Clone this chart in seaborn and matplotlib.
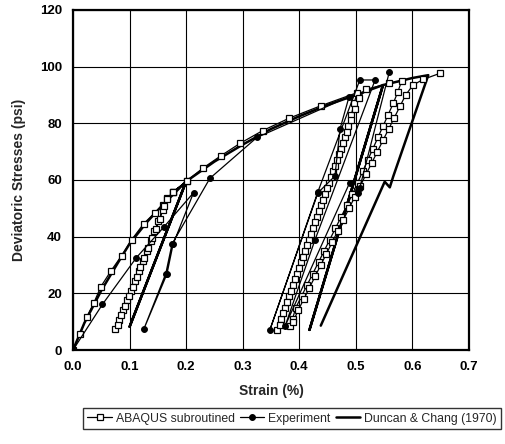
import matplotlib
matplotlib.use("Agg")
import matplotlib.pyplot as plt
import seaborn as sns
import pandas as pd

# ABAQUS subroutine: loading envelope with unload/reload cycles
abaqus_strain = [
    0.000, 0.012, 0.024, 0.037, 0.049, 0.067, 0.086, 0.104, 0.125, 0.145, 0.159, 0.167, 0.176, 0.202,
    0.176, 0.167, 0.159, 0.151, 0.144, 0.137, 0.130, 0.123, 0.116, 0.109, 0.102, 0.095, 0.088, 0.081, 0.075,
    0.079, 0.085, 0.092, 0.099, 0.106, 0.113, 0.119, 0.126, 0.133, 0.140, 0.147, 0.153, 0.161, 0.176, 0.202,
    0.229, 0.261, 0.295, 0.335, 0.382, 0.438, 0.502,
    0.497, 0.492, 0.486, 0.480, 0.474, 0.467, 0.460, 0.453, 0.446, 0.439, 0.432, 0.424, 0.417, 0.410,
    0.403, 0.396, 0.389, 0.382, 0.375, 0.368, 0.361,
    0.366, 0.372, 0.379, 0.386, 0.393, 0.400, 0.407, 0.414, 0.421, 0.428, 0.435, 0.442, 0.449, 0.456,
    0.463, 0.470, 0.477, 0.484, 0.491, 0.498, 0.506, 0.518, 0.559, 0.581,
    0.574, 0.566, 0.557, 0.548, 0.539, 0.530, 0.521, 0.512, 0.503, 0.494, 0.484, 0.474, 0.464, 0.454,
    0.444, 0.434, 0.424, 0.414, 0.404, 0.394, 0.388, 0.383,
    0.389, 0.398, 0.408, 0.418, 0.428, 0.438, 0.448, 0.458, 0.468, 0.478, 0.488, 0.498, 0.508, 0.518,
    0.528, 0.538, 0.548, 0.558, 0.568, 0.578, 0.588, 0.601, 0.619, 0.648,
]
abaqus_stress = [
    0.0, 5.6, 11.5, 16.7, 22.3, 27.9, 33.3, 39.0, 44.6, 48.5, 51.3, 53.5, 55.6, 59.8,
    55.6, 53.3, 49.5, 45.5, 42.0, 38.5, 35.0, 31.5, 28.0, 24.5, 21.0, 17.5, 14.0, 10.5, 7.3,
    9.0, 12.2, 15.6, 19.0, 22.4, 25.8, 29.2, 32.6, 36.0, 39.4, 42.8, 46.2, 50.9, 55.6, 59.8,
    64.1, 68.5, 72.9, 77.4, 81.8, 86.2, 90.8,
    87.0, 83.0, 79.0, 75.0, 71.0, 67.0, 63.0, 59.0, 55.0, 51.0, 47.0, 43.0, 39.0, 35.0,
    31.0, 27.0, 23.0, 19.0, 15.0, 11.0, 7.2,
    9.0, 13.0, 17.0, 21.0, 25.0, 29.0, 33.0, 37.0, 41.0, 45.0, 49.0, 53.0, 57.0, 61.0,
    65.0, 69.0, 73.0, 77.0, 81.0, 85.0, 89.0, 92.0, 94.1, 95.0,
    91.0, 87.0, 83.0, 79.0, 75.0, 71.0, 67.0, 63.0, 59.0, 55.0, 51.0, 47.0, 43.0, 39.0,
    35.0, 31.0, 27.0, 23.0, 19.0, 15.0, 11.0, 8.5,
    10.0, 14.0, 18.0, 22.0, 26.0, 30.0, 34.0, 38.0, 42.0, 46.0, 50.0, 54.0, 58.0, 62.0,
    66.0, 70.0, 74.0, 78.0, 82.0, 86.0, 90.0, 93.5, 95.5, 97.6,
]

# Laboratory test readings
experiment_strain = [
    0.000, 0.052, 0.112, 0.161, 0.213, 0.177, 0.166, 0.125, 0.164, 0.175, 0.242, 0.325,
    0.488, 0.472, 0.463, 0.433, 0.348, 0.433, 0.507, 0.534, 0.428, 0.375, 0.489, 0.503,
    0.507, 0.559,
]
experiment_stress = [
    0.0, 16.1, 32.6, 43.5, 55.5, 37.4, 26.8, 7.3, 27.0, 37.4, 60.6, 75.0,
    89.4, 78.0, 61.4, 55.5, 7.1, 55.9, 95.3, 95.3, 39.0, 8.5, 59.0, 55.5,
    57.3, 98.0,
]

# Hyperbolic model of Duncan & Chang (1970)
duncan_strain = [
    0.000, 0.020, 0.050, 0.080, 0.100, 0.130, 0.160, 0.200, 0.100, 0.200,
    0.250, 0.300, 0.350, 0.400, 0.450, 0.500, 0.548, 0.418, 0.548,
    0.600, 0.628, 0.566, 0.560, 0.551, 0.438,
]
duncan_stress = [
    0.0, 9.5, 21.0, 31.0, 37.5, 45.0, 51.5, 59.5, 8.2, 59.5,
    66.5, 72.5, 78.0, 82.5, 86.5, 90.0, 93.5, 7.1, 93.5,
    96.0, 97.0, 61.2, 57.4, 59.4, 8.6,
]

x_ticks = [0.0, 0.1, 0.2, 0.3, 0.4, 0.5, 0.6, 0.7]
y_ticks = [0, 20, 40, 60, 80, 100, 120]

sns.set_theme(style="white")
plt.rcParams["font.family"] = ["Liberation Sans", "DejaVu Sans"]

fig = plt.figure(figsize=(5.05, 4.44), dpi=100)
ax = fig.add_axes([0.1446, 0.2117, 0.7841, 0.7658])

df_duncan = pd.DataFrame({"strain": duncan_strain, "stress": duncan_stress})
df_abaqus = pd.DataFrame({"strain": abaqus_strain, "stress": abaqus_stress})
df_exp = pd.DataFrame({"strain": experiment_strain, "stress": experiment_stress})

sns.lineplot(data=df_abaqus, x="strain", y="stress", sort=False, estimator=None, ax=ax,
             color="black", linewidth=0.9, marker="s", markersize=4.8,
             markerfacecolor="white", markeredgecolor="black", markeredgewidth=0.9,
             label="ABAQUS subroutined", zorder=3)
sns.lineplot(data=df_exp, x="strain", y="stress", sort=False, estimator=None, ax=ax,
             color="black", linewidth=0.9, marker="o", markersize=4.2,
             markerfacecolor="black", markeredgecolor="black",
             label="Experiment", zorder=4)
sns.lineplot(data=df_duncan, x="strain", y="stress", sort=False, estimator=None, ax=ax,
             color="black", linewidth=1.8, label="Duncan & Chang (1970)", zorder=2)

ax.set_xlim(0, 0.7)
ax.set_ylim(0, 120)
ax.set_xticks(x_ticks)
ax.set_yticks(y_ticks)
ax.set_xticklabels([f"{v:.1f}" for v in x_ticks])
ax.set_yticklabels([str(v) for v in y_ticks])
ax.grid(True, color="black", linewidth=0.8)
ax.set_axisbelow(True)
for s in ax.spines.values():
    s.set_color("black")
    s.set_linewidth(1.6)
ax.tick_params(axis="both", length=0, pad=8, labelsize=9.5, colors="black")
for lab in ax.get_xticklabels() + ax.get_yticklabels():
    lab.set_fontweight("bold")

ax.set_xlabel("Strain (%)", fontsize=10, fontweight="bold", labelpad=8)
ax.set_ylabel("Deviatoric Stresses (psi)", fontsize=10, fontweight="bold", labelpad=10)

leg = ax.legend(loc="upper center", bbox_to_anchor=(0.553, -0.172), ncol=3,
                frameon=True, fancybox=False, fontsize=8.8, handlelength=2.0,
                handletextpad=0.3, columnspacing=0.45, borderpad=0.35, borderaxespad=0)
leg.get_frame().set_edgecolor("black")
leg.get_frame().set_linewidth(1.0)

fig.savefig("out.png", dpi=100)
